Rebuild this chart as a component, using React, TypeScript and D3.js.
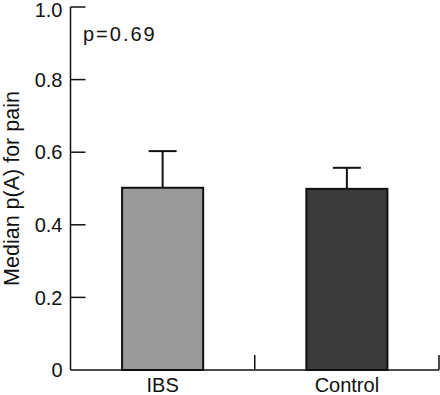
import React, {useEffect, useRef} from 'react'
import * as d3 from 'd3'

const groups = ['IBS', 'Control']
const medians = [0.502, 0.499]
const upperErr = [0.603, 0.557]
const fills = ['#9a9a9a', '#3b3b3b']
const yTicks = [0, 0.2, 0.4, 0.6, 0.8, 1.0]
const yTickLabels = ['0', '0.2', '0.4', '0.6', '0.8', '1.0']

const W = 440
const H = 395
const font = '"Liberation Sans", Arial, sans-serif'

const App = () => {
  const ref = useRef<SVGSVGElement>(null)

  useEffect(() => {
    document.body.style.margin = '0'
    const svg = d3.select(ref.current)
    svg.selectAll('*').remove()

    const margin = {top: 7, right: 1, bottom: 25, left: 70.5}

    const x = d3.scaleBand()
      .domain(groups)
      .range([margin.left, W - margin.right])
      .padding(0)
    const barW = x.bandwidth() * 0.44

    const y = d3.scaleLinear()
      .domain([0, 1])
      .range([H - margin.bottom, margin.top])

    // y axis
    const ya = svg.append('g')
    ya.append('line')
      .attr('x1', margin.left).attr('x2', margin.left)
      .attr('y1', y(1)).attr('y2', y(0))
      .attr('stroke', '#111').attr('stroke-width', 1.5)
    ya.selectAll('.yt')
      .data(yTicks.slice(1))
      .join('line')
      .attr('x1', margin.left).attr('x2', margin.left + 15)
      .attr('y1', d => y(d)).attr('y2', d => y(d))
      .attr('stroke', '#111').attr('stroke-width', 1.5)
    ya.selectAll('.yl')
      .data(yTicks)
      .join('text')
      .attr('x', margin.left - 8)
      .attr('y', d => Math.max(y(d), 10)) // keep top label inside
      .attr('dy', '0.36em')
      .attr('text-anchor', 'end')
      .attr('font-family', font)
      .attr('font-size', 20)
      .attr('fill', '#111')
      .text((d, i) => yTickLabels[i])

    // x axis
    const xa = svg.append('g')
    xa.append('line')
      .attr('x1', margin.left).attr('x2', W - margin.right)
      .attr('y1', y(0)).attr('y2', y(0))
      .attr('stroke', '#111').attr('stroke-width', 1.5)
    xa.selectAll('.xt')
      .data(groups)
      .join('line')
      .attr('x1', d => x(d)! + x.bandwidth())
      .attr('x2', d => x(d)! + x.bandwidth())
      .attr('y1', y(0)).attr('y2', y(0) - 15)
      .attr('stroke', '#111').attr('stroke-width', 1.5)
    xa.selectAll('.xl')
      .data(groups)
      .join('text')
      .attr('x', d => x(d)! + x.bandwidth() / 2)
      .attr('y', y(0) + 22)
      .attr('text-anchor', 'middle')
      .attr('font-family', font)
      .attr('font-size', 20)
      .attr('fill', '#111')
      .text(d => d)

    // error bars (upper only)
    const eb = svg.append('g')
    groups.forEach((g, i) => {
      const cx = x(g)! + x.bandwidth() / 2
      eb.append('line')
        .attr('x1', cx).attr('x2', cx)
        .attr('y1', y(medians[i])).attr('y2', y(upperErr[i]))
        .attr('stroke', '#111').attr('stroke-width', 2)
      eb.append('line')
        .attr('x1', cx - 14).attr('x2', cx + 14)
        .attr('y1', y(upperErr[i])).attr('y2', y(upperErr[i]))
        .attr('stroke', '#111').attr('stroke-width', 2)
    })

    // bars
    svg.append('g')
      .selectAll('rect')
      .data(groups)
      .join('rect')
      .attr('x', d => x(d)! + (x.bandwidth() - barW) / 2)
      .attr('y', (d, i) => y(medians[i]))
      .attr('width', barW)
      .attr('height', (d, i) => y(0) - y(medians[i]))
      .attr('fill', (d, i) => fills[i])
      .attr('stroke', '#111')
      .attr('stroke-width', 2)

    // annotation
    svg.append('text')
      .attr('x', 83)
      .attr('y', 41)
      .attr('font-family', font)
      .attr('font-size', 20)
      .attr('letter-spacing', 2)
      .attr('fill', '#111')
      .text('p=0.69')

    // y label
    svg.append('text')
      .attr('transform', `translate(19,${(y(0) + y(1)) / 2}) rotate(-90)`)
      .attr('text-anchor', 'middle')
      .attr('font-family', font)
      .attr('font-size', 21.5)
      .attr('fill', '#111')
      .text('Median p(A) for pain')
  }, [])

  return <svg ref={ref} width={W} height={H} style={{display: 'block'}} />
}

export default App
